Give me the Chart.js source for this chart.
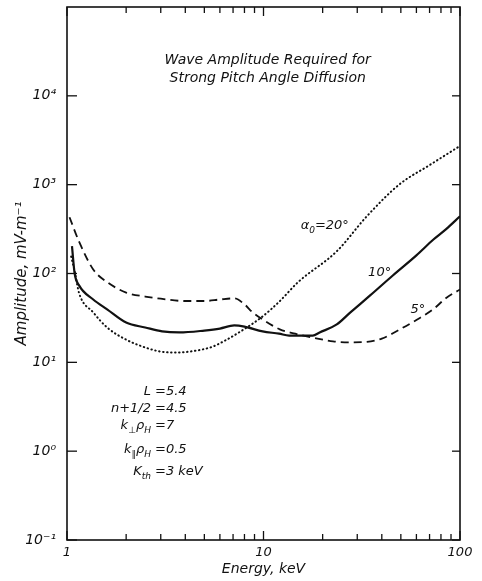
<!DOCTYPE html>
<html>
<head>
<meta charset="utf-8">
<script src="https://cdn.jsdelivr.net/npm/chart.js@4.4.0/dist/chart.umd.min.js"></script>
<style>
  html, body { margin: 0; padding: 0; background: #fff; }
</style>
</head>
<body>
<canvas id="ampChart" width="482" height="581"></canvas>
<script>
// energy (keV) / amplitude (mV/m)
const energy5 = [1.03, 1.15, 1.36, 1.6, 2.0, 2.5, 3.0, 4.0, 5.0, 6.0, 7.1, 8.0, 8.8, 10.0, 12.1, 14.5, 17.8, 22.6, 28, 33.6, 40, 49.4, 60, 73, 85, 100];
const amp5 = [430, 230, 111, 80, 61, 55, 52, 49, 49, 51, 52.5, 45, 36.5, 30, 23.5, 21, 19, 17.2, 16.8, 17, 18.5, 23.5, 30, 39.5, 53, 66];

const energy10 = [1.06, 1.094, 1.15, 1.36, 1.6, 2.0, 2.5, 3.05, 3.73, 5.0, 6.0, 7.1, 8.0, 9.9, 12, 13.5, 17.8, 19.3, 23.6, 27.5, 35, 45.5, 60, 73, 85, 100];
const amp10 = [203, 100, 74, 51, 39.5, 28, 24.7, 22.3, 21.7, 22.8, 24, 26, 25.2, 22.3, 21, 20, 20, 21.7, 26.7, 36, 57, 95, 160, 240, 316, 440];

const energy20 = [1.05, 1.1, 1.15, 1.36, 1.6, 2.0, 2.5, 3.0, 3.6, 4.5, 5.5, 6.5, 7.5, 9.9, 12, 15, 23.6, 33.6, 49.4, 70, 100];
const amp20 = [155, 100, 61, 36.5, 24.7, 18, 14.7, 13.2, 12.9, 13.5, 15, 18, 21.7, 32.9, 48, 80, 178, 442, 1016, 1660, 2730];

const xMajor = [1, 10, 100];
const xMajorLabels = ['1', '10', '100'];
const xMinor = [2, 3, 4, 5, 6, 7, 8, 9, 20, 30, 40, 50, 60, 70, 80, 90];
const yMajor = [0.1, 1, 10, 100, 1000, 10000];
const yMajorLabels = ['10\u207B\u00B9', '10\u2070', '10\u00B9', '10\u00B2', '10\u00B3', '10\u2074'];

const ink = '#111';
const fontFamily = '"DejaVu Sans", sans-serif';

function toPoints(xs, ys) {
    return xs.map((v, i) => ({ x: v, y: ys[i] }));
}

// text with sub/superscript pieces: [[text, 'sub'|'sup'|''], ...]
function drawRich(ctx, parts, x, y, align) {
    const big = 'italic 13px ' + fontFamily;
    const small = 'italic 9px ' + fontFamily;
    let w = 0;
    parts.forEach(p => { ctx.font = p[1] ? small : big; w += ctx.measureText(p[0]).width; });
    let cx = align === 'right' ? x - w : (align === 'center' ? x - w / 2 : x);
    ctx.textAlign = 'left';
    ctx.textBaseline = 'alphabetic';
    parts.forEach(p => {
        ctx.font = p[1] ? small : big;
        const dy = p[1] === 'sub' ? 4 : (p[1] === 'sup' ? -6 : 0);
        ctx.fillText(p[0], cx, y + dy);
        cx += ctx.measureText(p[0]).width;
    });
}

const frameAndNotes = {
    id: 'frameAndNotes',
    afterDatasetsDraw(chart) {
        const { ctx, chartArea: a, scales: { x, y } } = chart;
        ctx.save();
        ctx.strokeStyle = ink;
        ctx.fillStyle = ink;
        ctx.lineWidth = 1.6;
        ctx.strokeRect(a.left, a.top, a.right - a.left, a.bottom - a.top);

        const line = (x1, y1, x2, y2) => { ctx.beginPath(); ctx.moveTo(x1, y1); ctx.lineTo(x2, y2); ctx.stroke(); };
        ctx.lineWidth = 1.3;
        xMajor.forEach(v => {
            const px = x.getPixelForValue(v);
            line(px, a.bottom, px, a.bottom - 9);
            line(px, a.top, px, a.top + 9);
        });
        xMinor.forEach(v => {
            const px = x.getPixelForValue(v);
            line(px, a.bottom, px, a.bottom - 6);
            line(px, a.top, px, a.top + 6);
        });
        yMajor.forEach(v => {
            const py = y.getPixelForValue(v);
            line(a.left, py, a.left + 10, py);
            line(a.right, py, a.right - 8, py);
        });

        // heading
        ctx.font = 'italic 14px ' + fontFamily;
        ctx.textAlign = 'center';
        ctx.textBaseline = 'middle';
        const midX = x.getPixelForValue(10.5);
        ctx.fillText('Wave Amplitude Required for', midX, a.top + 53);
        ctx.fillText('Strong Pitch Angle Diffusion', midX, a.top + 71);

        // curve labels
        drawRich(ctx, [['\u03B1', ''], ['0', 'sub'], ['=20\u00B0', '']], x.getPixelForValue(20.5), y.getPixelForValue(359) + 5, 'center');
        drawRich(ctx, [['10\u00B0', '']], x.getPixelForValue(39), y.getPixelForValue(108) + 5, 'center');
        drawRich(ctx, [['5\u00B0', '']], x.getPixelForValue(61), y.getPixelForValue(41) + 5, 'center');

        // parameters block
        const col = a.left + 86;
        const rows = [
            [[['L', '']], '=5.4', 390],
            [[['n+1/2', '']], '=4.5', 407],
            [[['k', ''], ['\u22A5', 'sub'], ['\u03C1', ''], ['H', 'sub']], '=7', 424],
            [[['k', ''], ['\u2225', 'sub'], ['\u03C1', ''], ['H', 'sub']], '=0.5', 448],
            [[['K', ''], ['th', 'sub']], '=3 keV', 470]
        ];
        rows.forEach(r => {
            drawRich(ctx, r[0], col - 2, r[2] + 5, 'right');
            drawRich(ctx, [[r[1], '']], col + 2, r[2] + 5, 'left');
        });
        ctx.restore();
    }
};

const ctx = document.getElementById('ampChart').getContext('2d');

const config = {
    type: 'line',
    data: {
        datasets: [
            {
                label: '5\u00B0',
                data: toPoints(energy5, amp5),
                borderColor: ink,
                borderWidth: 1.8,
                borderDash: [8, 5],
                cubicInterpolationMode: 'monotone',
                pointRadius: 0
            },
            {
                label: '10\u00B0',
                data: toPoints(energy10, amp10),
                borderColor: ink,
                borderWidth: 2.2,
                cubicInterpolationMode: 'monotone',
                pointRadius: 0
            },
            {
                label: '20\u00B0',
                data: toPoints(energy20, amp20),
                borderColor: ink,
                borderWidth: 2,
                borderDash: [0.5, 3.5],
                borderCapStyle: 'round',
                cubicInterpolationMode: 'monotone',
                pointRadius: 0
            }
        ]
    },
    options: {
        responsive: false,
        animation: false,
        layout: { padding: { top: 7, right: 22, left: 0, bottom: 0 } },
        plugins: {
            legend: { display: false },
            tooltip: { enabled: false }
        },
        scales: {
            x: {
                type: 'logarithmic',
                min: 1,
                max: 100,
                grid: { display: false, drawTicks: false },
                border: { display: false },
                afterFit: s => { s.height = 41; s.paddingLeft = 0; s.paddingRight = 0; },
                afterBuildTicks: s => { s.ticks = xMajor.map(v => ({ value: v })); },
                ticks: {
                    color: ink,
                    padding: 5,
                    maxRotation: 0,
                    font: { family: fontFamily, size: 13, style: 'italic' },
                    callback: (v, i) => xMajorLabels[i]
                },
                title: {
                    display: true,
                    text: 'Energy, keV',
                    color: ink,
                    padding: { top: 0, bottom: 3 },
                    font: { family: fontFamily, size: 14, style: 'italic' }
                }
            },
            y: {
                type: 'logarithmic',
                min: 0.1,
                max: 100000,
                grid: { display: false, drawTicks: false },
                border: { display: false },
                afterFit: s => { s.width = 67; s.paddingTop = 0; s.paddingBottom = 0; },
                afterBuildTicks: s => { s.ticks = yMajor.map(v => ({ value: v })); },
                ticks: {
                    color: ink,
                    padding: 11,
                    font: { family: fontFamily, size: 14, style: 'italic' },
                    callback: (v, i) => yMajorLabels[i]
                },
                title: {
                    display: true,
                    text: 'Amplitude, mV-m\u207B\u00B9',
                    color: ink,
                    padding: { top: 13, bottom: 0 },
                    font: { family: fontFamily, size: 15, style: 'italic' }
                }
            }
        }
    },
    plugins: [frameAndNotes]
};

const ampChart = new Chart(ctx, config);
</script>
</body>
</html>
